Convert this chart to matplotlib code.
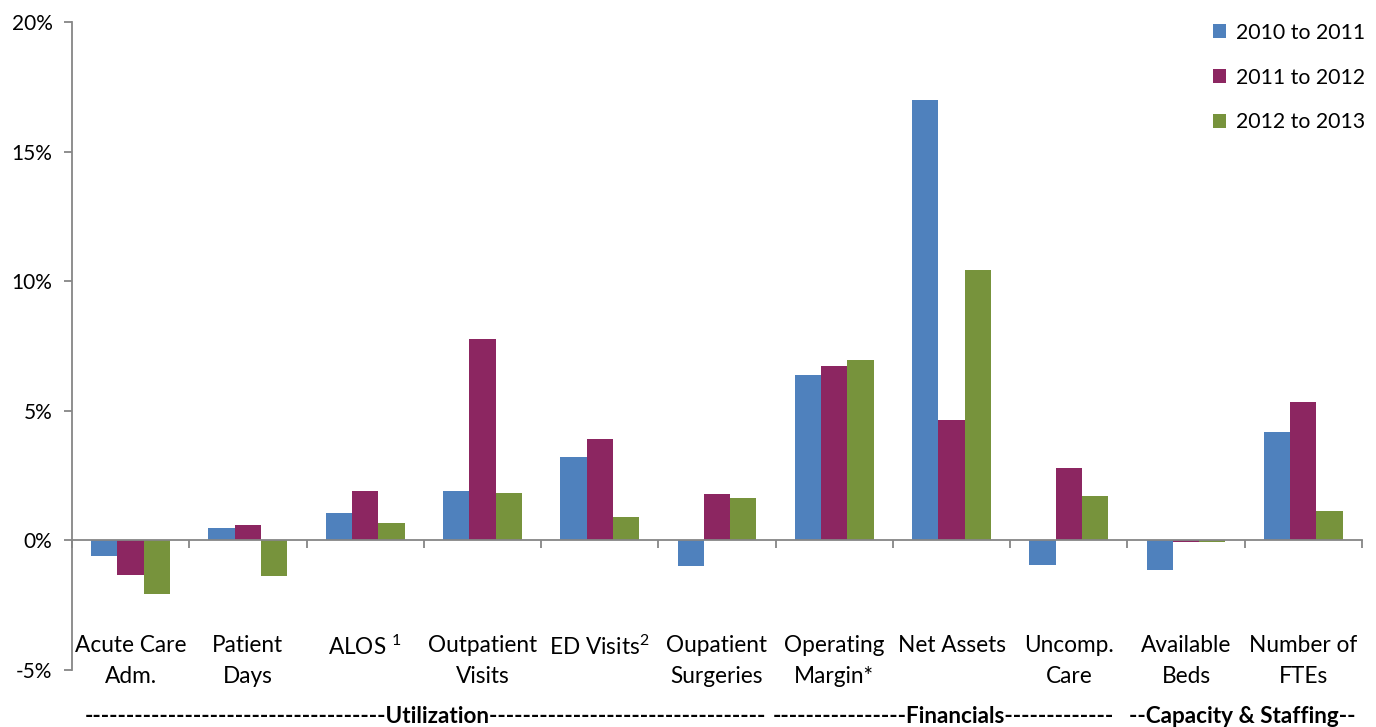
import numpy as np
import matplotlib
matplotlib.use("Agg")
import matplotlib.pyplot as plt

plt.rcParams['font.family'] = ['Lato', 'DejaVu Sans']
plt.rcParams['mathtext.fontset'] = 'custom'
plt.rcParams['mathtext.rm'] = 'Lato'
plt.rcParams['mathtext.it'] = 'Lato'

# data (percent change)
categories = ["Acute Care\nAdm.", "Patient\nDays", "ALOS $^1$", "Outpatient\nVisits",
              "ED Visits$^2$", "Oupatient\nSurgeries", "Operating\nMargin*",
              "Net Assets", "Uncomp.\nCare", "Available\nBeds", "Number of\nFTEs"]
series_names = ["2010 to 2011", "2011 to 2012", "2012 to 2013"]
y2011 = [-0.6, 0.46, 1.04, 1.89, 3.2, -1.0, 6.37, 17.0, -0.93, -1.16, 4.17]
y2012 = [-1.35, 0.58, 1.89, 7.76, 3.9, 1.78, 6.72, 4.63, 2.78, -0.05, 5.33]
y2013 = [-2.05, -1.39, 0.66, 1.81, 0.89, 1.62, 6.95, 10.42, 1.7, -0.05, 1.12]
groups = ["-" * 36 + "Utilization" + "-" * 33,
          "-" * 16 + "Financials" + "-" * 13,
          "--Capacity & Staffing--"]
group_centers = [2.51, 6.93, 9.48]

colors = ["#4F81BD", "#8C2661", "#77933C"]
axis_grey = "#868686"

fig = plt.figure(figsize=(13.76, 7.27), dpi=100)
ax = fig.add_axes([0.0523, 0.0784, 0.9375, 0.8913])

x = np.arange(len(categories))
w = 0.224
for i, vals in enumerate([y2011, y2012, y2013]):
    ax.bar(x + (i - 1) * w, vals, width=w, color=colors[i], label=series_names[i],
           edgecolor="none", zorder=2)

ax.set_xlim(-0.5, len(categories) - 0.5)
ax.set_ylim(-5, 20)
ax.set_yticks([-5, 0, 5, 10, 15, 20])
ax.set_yticklabels([f"{v}%" for v in [-5, 0, 5, 10, 15, 20]])

for s in ["top", "right"]:
    ax.spines[s].set_visible(False)
ax.spines["left"].set_color(axis_grey)
ax.spines["left"].set_linewidth(1.3)
ax.spines["bottom"].set_position(("data", 0))
ax.spines["bottom"].set_color(axis_grey)
ax.spines["bottom"].set_linewidth(1.3)

ax.set_xticks(np.arange(len(categories) + 1) - 0.5)
ax.set_xticklabels([])
ax.set_xticks(x, minor=True)
ax.set_xticklabels(categories, minor=True, fontsize=16.3, linespacing=1.58)
ax.tick_params(axis="x", which="major", length=6, width=1.3, color=axis_grey)
ax.tick_params(axis="x", which="minor", length=0, pad=68)
ax.tick_params(axis="y", length=6, width=1.3, color=axis_grey, labelsize=15, pad=8)

for g, c in zip(groups, group_centers):
    ax.text(c, -6.8, g, ha="center", va="center", fontsize=16.2, fontweight="bold")

ax.legend(loc="upper right", bbox_to_anchor=(1.009, 1.012), frameon=False, fontsize=15.3,
          handlelength=0.65, handleheight=0.65, handletextpad=0.45, labelspacing=1.17,
          borderaxespad=0.0)

fig.savefig("out.png", dpi=100)
